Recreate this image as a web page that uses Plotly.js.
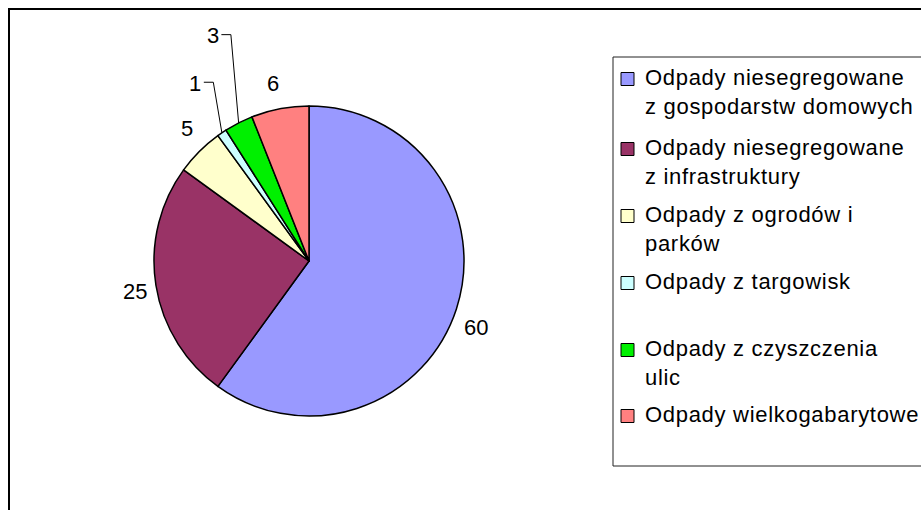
<!DOCTYPE html>
<html>
<head>
<meta charset="utf-8">
<script src="https://cdn.plot.ly/plotly-3.0.1.min.js"></script>
<style>
html,body{margin:0;padding:0;background:#fff;}
#chart{width:921px;height:510px;}
.legend-item .annotation-text{letter-spacing:0.7px;}
</style>
</head>
<body>
<div id="chart"></div>
<script>
// ---- data ----
const categories = [
  "Odpady niesegregowane<br>z gospodarstw domowych",
  "Odpady niesegregowane<br>z infrastruktury",
  "Odpady z ogrodów i<br>parków",
  "Odpady z targowisk",
  "Odpady z czyszczenia<br>ulic",
  "Odpady wielkogabarytowe"
];
const values = [60, 25, 5, 1, 3, 6];
const colors = ["#9999FF", "#993366", "#FFFFCC", "#CCFFFF", "#00F000", "#FF8080"];

// ---- layout config (pixels) ----
const W = 921, H = 510;
const CX = 309, CY = 261, R = 155;
const labelR = [180, 177, 180, 211, 245, 181];
const labelDTheta = [3.6, -0.8, 2.5, 1.6, 3.9, -0.7];
const labelLeader = [false, false, false, true, true, false];
const legendMarkerY = [79, 149, 216, 283, 350, 416];
const legendMarkerX0 = 621, legendMarkerSize = 13, legendTextX = 644;
const FONT = "Liberation Sans, Arial, sans-serif";

const px = x => x / W;
const py = y => 1 - y / H;

const data = [{
  type: "pie",
  labels: categories,
  values: values,
  sort: false,
  direction: "clockwise",
  rotation: 0,
  textinfo: "none",
  marker: {colors: colors, line: {color: "#000", width: 1.5}},
  domain: {x: [px(CX - R), px(CX + R)], y: [py(CY + R), py(CY - R)]},
  automargin: false,
  showlegend: false,
  hoverinfo: "label+value"
}];

const annotations = [];
const shapes = [
  {type: "rect", xref: "paper", yref: "paper", x0: px(9), x1: 1.05, y0: -0.05, y1: py(9),
   line: {color: "#000", width: 2}},
  {type: "rect", xref: "paper", yref: "paper", x0: px(613), x1: 1.05, y0: py(466), y1: py(57),
   line: {color: "#222", width: 1}}
];

// slice value labels computed from the slice angles
const total = values.reduce((a, b) => a + b, 0);
let cum = 0;
values.forEach((v, i) => {
  const mid = (cum + v / 2) / total * 360;
  cum += v;
  const th = (mid + labelDTheta[i]) * Math.PI / 180;
  const lx = CX + labelR[i] * Math.sin(th);
  const ly = CY - labelR[i] * Math.cos(th);
  annotations.push({
    xref: "paper", yref: "paper", x: px(lx), y: py(ly),
    xanchor: "center", yanchor: "middle", showarrow: false,
    text: String(v), font: {family: FONT, size: 22, color: "#000"}
  });
  if (labelLeader[i]) {
    const m = mid * Math.PI / 180;
    const ex = CX + R * Math.sin(m), ey = CY - R * Math.cos(m);
    shapes.push({
      type: "path", xref: "paper", yref: "paper",
      path: `M${px(lx + 8.5)},${py(ly - 1)} L${px(lx + 18)},${py(ly - 1)} L${px(ex)},${py(ey)}`,
      line: {color: "#000", width: 1}
    });
  }
});

// legend built from the categories and colours
categories.forEach((c, i) => {
  const my = legendMarkerY[i];
  shapes.push({
    type: "rect", xref: "paper", yref: "paper",
    x0: px(legendMarkerX0), x1: px(legendMarkerX0 + legendMarkerSize),
    y0: py(my + legendMarkerSize / 2), y1: py(my - legendMarkerSize / 2),
    fillcolor: colors[i], line: {color: "#000", width: 1}
  });
  annotations.push({
    xref: "paper", yref: "paper", x: px(legendTextX), y: py(my - 15),
    xanchor: "left", yanchor: "top", align: "left", showarrow: false,
    text: c, font: {family: FONT, size: 22, color: "#000"},
    borderpad: 0
  });
});

const layout = {
  width: W, height: H,
  margin: {l: 0, r: 0, t: 0, b: 0},
  paper_bgcolor: "#fff",
  showlegend: false,
  shapes: shapes,
  annotations: annotations
};

Plotly.newPlot("chart", data, layout, {displayModeBar: false, staticPlot: true}).then(() => {
  const texts = document.querySelectorAll(".annotation");
  const n = texts.length;
  for (let k = n - categories.length; k < n; k++) texts[k].classList.add("legend-item");
});
</script>
</body>
</html>
